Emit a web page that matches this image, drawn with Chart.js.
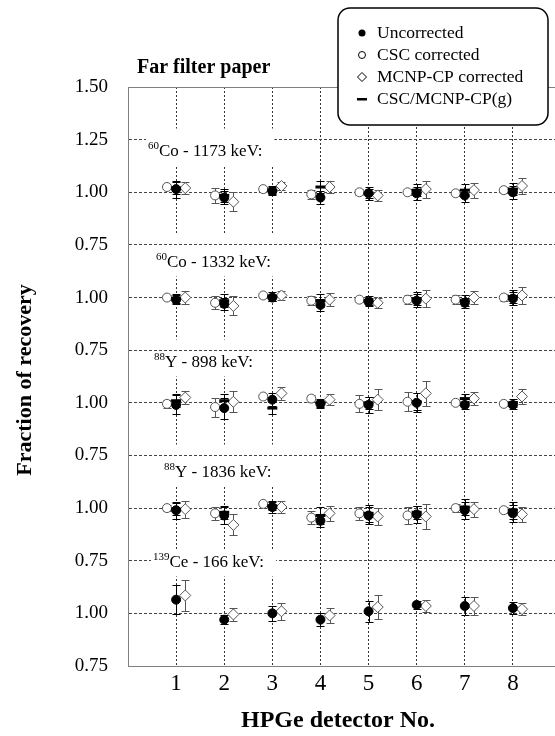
<!DOCTYPE html>
<html>
<head>
<meta charset="utf-8">
<script src="https://cdn.jsdelivr.net/npm/chart.js@4.4.0/dist/chart.umd.min.js"></script>
<style>
  html, body { margin: 0; padding: 0; background: #fff; }
  #wrap { width: 555px; height: 736px; overflow: hidden; }
</style>
</head>
<body>
<div id="wrap"><canvas id="chart" width="555" height="736"></canvas></div>
<script>
// x categories and the stacked y axis tick labels (bottom -> top)
const detectors = [1, 2, 3, 4, 5, 6, 7, 8];
const yTickLabels = ['0.75', '1.00', '0.75', '1.00', '0.75', '1.00', '0.75', '1.00', '0.75', '1.00', '1.25', '1.50'];

// panel captions, top -> bottom
const panelMass = ['60', '60', '88', '88', '139'];
const panelNames = ['Co - 1173 keV:', 'Co - 1332 keV:', 'Y - 898 keV:', 'Y - 1836 keV:', 'Ce - 166 keV:'];

// 60Co 1173 keV
const unc1173 = [1.015, 0.975, 1.005, 0.975, 0.995, 0.995, 0.985, 1.00];
const unc1173Err = [0.04, 0.03, 0.02, 0.03, 0.02, 0.03, 0.03, 0.03];
const csc1173 = [1.025, 0.985, 1.015, 0.99, 1.00, 1.00, 0.995, 1.01];
const csc1173Err = [0.01, 0.035, 0.01, 0.02, 0.015, 0.015, 0.015, 0.015];
const mcnp1173 = [1.02, 0.955, 1.03, 1.025, 0.985, 1.015, 1.01, 1.03];
const mcnp1173Err = [0.03, 0.045, 0.02, 0.03, 0.025, 0.04, 0.035, 0.04];
const g1173 = [1.02, 0.985, 1.01, 1.025, 0.995, 1.01, 1.01, 1.015];
const g1173Err = [0.03, 0.03, 0.02, 0.03, 0.03, 0.03, 0.03, 0.03];

// 60Co 1332 keV
const unc1332 = [0.99, 0.97, 1.00, 0.965, 0.98, 0.985, 0.975, 0.995];
const unc1332Err = [0.02, 0.03, 0.015, 0.03, 0.02, 0.03, 0.025, 0.03];
const csc1332 = [1.00, 0.975, 1.01, 0.985, 0.99, 0.99, 0.99, 1.00];
const csc1332Err = [0.01, 0.03, 0.01, 0.02, 0.01, 0.02, 0.02, 0.015];
const mcnp1332 = [1.00, 0.96, 1.01, 0.99, 0.975, 0.995, 1.00, 1.01];
const mcnp1332Err = [0.03, 0.045, 0.02, 0.03, 0.025, 0.04, 0.03, 0.04];
const g1332 = [0.995, 0.985, 1.005, 0.985, 0.985, 0.995, 0.985, 1.005];
const g1332Err = [0.02, 0.03, 0.02, 0.03, 0.02, 0.03, 0.025, 0.03];

// 88Y 898 keV
const unc898 = [0.99, 0.975, 1.015, 0.995, 0.99, 1.00, 0.99, 0.99];
const unc898Err = [0.045, 0.05, 0.03, 0.02, 0.04, 0.045, 0.02, 0.02];
const csc898 = [0.995, 0.98, 1.03, 1.02, 0.995, 1.005, 1.00, 0.995];
const csc898Err = [0.02, 0.045, 0.01, 0.015, 0.04, 0.045, 0.01, 0.01];
const mcnp898 = [1.025, 1.005, 1.045, 1.015, 1.015, 1.045, 1.02, 1.03];
const mcnp898Err = [0.03, 0.05, 0.03, 0.025, 0.05, 0.06, 0.03, 0.035];
const g898 = [1.01, 1.01, 0.975, 1.00, 1.00, 1.005, 1.02, 1.00];
const g898Err = [0.03, 0.03, 0.03, 0.02, 0.03, 0.04, 0.02, 0.02];

// 88Y 1836 keV
const unc1836 = [0.99, 0.965, 1.005, 0.94, 0.965, 0.97, 0.99, 0.975];
const unc1836Err = [0.04, 0.04, 0.03, 0.03, 0.04, 0.04, 0.04, 0.04];
const csc1836 = [1.00, 0.975, 1.02, 0.955, 0.975, 0.965, 1.00, 0.99];
const csc1836Err = [0.015, 0.03, 0.01, 0.03, 0.03, 0.04, 0.02, 0.015];
const mcnp1836 = [0.995, 0.92, 1.005, 0.975, 0.96, 0.96, 0.995, 0.97];
const mcnp1836Err = [0.04, 0.05, 0.03, 0.035, 0.04, 0.06, 0.035, 0.035];
const g1836 = [0.995, 0.98, 1.01, 0.965, 0.975, 0.98, 1.005, 0.99];
const g1836Err = [0.03, 0.03, 0.02, 0.04, 0.04, 0.03, 0.04, 0.04];

// 139Ce 166 keV (no CSC or g values)
const unc166 = [1.065, 0.97, 1.00, 0.97, 1.01, 1.04, 1.035, 1.025];
const unc166Err = [0.07, 0.02, 0.035, 0.03, 0.05, 0.02, 0.045, 0.03];
const mcnp166 = [1.085, 0.995, 1.01, 0.99, 1.03, 1.035, 1.035, 1.02];
const mcnp166Err = [0.075, 0.03, 0.04, 0.035, 0.055, 0.03, 0.045, 0.03];

const uncPanels = [[unc1173, unc1173Err], [unc1332, unc1332Err], [unc898, unc898Err], [unc1836, unc1836Err], [unc166, unc166Err]];
const cscPanels = [[csc1173, csc1173Err], [csc1332, csc1332Err], [csc898, csc898Err], [csc1836, csc1836Err], null];
const mcnpPanels = [[mcnp1173, mcnp1173Err], [mcnp1332, mcnp1332Err], [mcnp898, mcnp898Err], [mcnp1836, mcnp1836Err], [mcnp166, mcnp166Err]];
const gPanels = [[g1173, g1173Err], [g1332, g1332Err], [g898, g898Err], [g1836, g1836Err], null];

const SERIF = '"Liberation Serif", "Times New Roman", serif';

// panel p (0 = top) has its 0.75 line at axis unit 2*(4-p); 0.25 recovery = 1 unit
const toAxis = (p, v) => 2 * (4 - p) + (v - 0.75) / 0.25;

function buildPoints(panels, shift) {
  const pts = [];
  panels.forEach((pair, p) => {
    if (!pair) return;
    const [vals, errs] = pair;
    vals.forEach((v, i) => {
      pts.push({ x: detectors[i] + shift, y: toAxis(p, v), e: errs[i] / 0.25 });
    });
  });
  return pts;
}

const datasets = [
  {
    label: 'CSC/MCNP-CP(g)', data: buildPoints(gPanels, 0), order: 0,
    pointStyle: 'line', pointRadius: 5, borderWidth: 3, borderColor: '#000', backgroundColor: '#000', barColor: '#000'
  },
  {
    label: 'Uncorrected', data: buildPoints(uncPanels, 0), order: 1,
    pointStyle: 'circle', pointRadius: 4.5, borderWidth: 1, borderColor: '#000', backgroundColor: '#000', barColor: '#000'
  },
  {
    label: 'MCNP-CP corrected', data: buildPoints(mcnpPanels, 0.19), order: 2,
    pointStyle: 'rectRot', pointRadius: 5.5, borderWidth: 1, borderColor: '#555', backgroundColor: '#fff', barColor: '#555'
  },
  {
    label: 'CSC corrected', data: buildPoints(cscPanels, -0.19), order: 3,
    pointStyle: 'circle', pointRadius: 4.5, borderWidth: 1, borderColor: '#555', backgroundColor: '#fff', barColor: '#555'
  }
];

// caption placement: px from plot left, baseline px below the panel's 1.25 line
const captionDx = [20, 28, 26, 36, 25];
const captionDy = [16, 22, 16, 21, 6];
const captionOnLine = [true, false, false, false, true];

const panelPlugin = {
  id: 'panels',
  beforeDatasetsDraw(chart) {
    const { ctx, chartArea: a, scales: { y } } = chart;
    ctx.save();
    ctx.strokeStyle = '#808080';
    ctx.lineWidth = 1;
    ctx.beginPath();
    ctx.moveTo(a.left, a.top + 0.5);
    ctx.lineTo(a.right, a.top + 0.5);
    ctx.stroke();

    panelNames.forEach((name, p) => {
      const b = Math.round(y.getPixelForValue(2 * (4 - p) + 2) - 0.5) + 0.5;
      ctx.font = '11px ' + SERIF;
      const sw = ctx.measureText(panelMass[p]).width;
      ctx.font = '17px ' + SERIF;
      const mw = ctx.measureText(name).width;
      const x0 = a.left + captionDx[p];
      const base = b + captionDy[p];
      const x1 = x0 + sw + mw;

      // white box hides grid lines behind the caption
      const top = b - 11;
      ctx.fillStyle = '#fff';
      ctx.fillRect(a.left + 1, top, x1 + 12 - a.left - 1, base + 10 - top);

      ctx.strokeStyle = '#444';
      ctx.setLineDash([3, 2]);
      ctx.beginPath();
      ctx.moveTo(a.left + 1, b);
      ctx.lineTo(captionOnLine[p] ? x0 - 2 : x1 + 12, b);
      ctx.stroke();
      ctx.setLineDash([]);

      ctx.fillStyle = '#000';
      ctx.textAlign = 'left';
      ctx.textBaseline = 'alphabetic';
      ctx.font = '11px ' + SERIF;
      ctx.fillText(panelMass[p], x0, base - 7);
      ctx.font = '17px ' + SERIF;
      ctx.fillText(name, x0 + sw, base);
    });
    ctx.restore();
  }
};

const errorBarPlugin = {
  id: 'errorBars',
  beforeDatasetsDraw(chart) {
    const { ctx, scales: { y } } = chart;
    chart.data.datasets.forEach((ds, i) => {
      const meta = chart.getDatasetMeta(i);
      ctx.save();
      ctx.strokeStyle = ds.barColor;
      ctx.lineWidth = 1;
      meta.data.forEach((pt, j) => {
        const d = ds.data[j];
        const hi = Math.round(y.getPixelForValue(d.y + d.e)) + 0.5;
        const lo = Math.round(y.getPixelForValue(d.y - d.e)) + 0.5;
        const x = Math.round(pt.x) + 0.5;
        ctx.beginPath();
        ctx.moveTo(x, hi); ctx.lineTo(x, lo);
        ctx.moveTo(x - 4, hi); ctx.lineTo(x + 4, hi);
        ctx.moveTo(x - 4, lo); ctx.lineTo(x + 4, lo);
        ctx.stroke();
      });
      ctx.restore();
    });
  }
};

const textPlugin = {
  id: 'texts',
  afterDraw(chart) {
    const { ctx } = chart;
    ctx.save();
    ctx.fillStyle = '#000';
    ctx.textBaseline = 'alphabetic';

    ctx.font = 'bold 20px ' + SERIF;
    ctx.textAlign = 'left';
    ctx.fillText('Far filter paper', 137, 73);

    ctx.font = 'bold 24px ' + SERIF;
    ctx.textAlign = 'center';
    ctx.fillText('HPGe detector No.', 338, 727);

    ctx.save();
    ctx.translate(31, 380);
    ctx.rotate(-Math.PI / 2);
    ctx.font = 'bold 22px ' + SERIF;
    ctx.fillText('Fraction of recovery', 0, 0);
    ctx.restore();

    // legend box
    const lx = 338, ly = 8, lw = 210, lh = 117, r = 12;
    ctx.fillStyle = '#fff';
    ctx.strokeStyle = '#000';
    ctx.lineWidth = 1.5;
    ctx.beginPath();
    ctx.roundRect(lx, ly, lw, lh, r);
    ctx.fill();
    ctx.stroke();

    const rows = [33, 55, 77, 99];
    const sx = 362;
    ctx.font = '17.5px ' + SERIF;
    ctx.textAlign = 'left';
    ctx.lineWidth = 1;
    ['Uncorrected', 'CSC corrected', 'MCNP-CP corrected', 'CSC/MCNP-CP(g)'].forEach((t, k) => {
      const ry = rows[k];
      if (k === 0) {
        ctx.fillStyle = '#000';
        ctx.beginPath(); ctx.arc(sx, ry, 3.5, 0, Math.PI * 2); ctx.fill();
      } else if (k === 1) {
        ctx.strokeStyle = '#000';
        ctx.beginPath(); ctx.arc(sx, ry, 3.5, 0, Math.PI * 2); ctx.stroke();
      } else if (k === 2) {
        ctx.strokeStyle = '#000';
        ctx.beginPath();
        ctx.moveTo(sx, ry - 4.5); ctx.lineTo(sx + 4.5, ry); ctx.lineTo(sx, ry + 4.5); ctx.lineTo(sx - 4.5, ry);
        ctx.closePath(); ctx.stroke();
      } else {
        ctx.fillStyle = '#000';
        ctx.fillRect(sx - 5, ry - 1, 10, 2.5);
      }
      ctx.fillStyle = '#000';
      ctx.fillText(t, 377, ry + 5);
    });
    ctx.restore();
  }
};

new Chart(document.getElementById('chart'), {
  type: 'scatter',
  data: { datasets },
  options: {
    responsive: false,
    animation: false,
    layout: { autoPadding: false, padding: { top: 87, right: 0, bottom: 0, left: 0 } },
    plugins: { legend: { display: false }, tooltip: { enabled: false } },
    scales: {
      x: {
        type: 'linear', min: 0, max: 8.875,
        afterBuildTicks: s => { s.ticks = detectors.map(d => ({ value: d })); },
        afterFit: s => { s.height = 70; },
        grid: { color: '#333', lineWidth: 1, drawTicks: false },
        border: { display: true, color: '#808080', width: 1, dash: [2, 2] },
        ticks: { color: '#000', font: { family: SERIF, size: 23 }, padding: 4 }
      },
      y: {
        type: 'linear', min: 0, max: 11,
        afterBuildTicks: s => { s.ticks = yTickLabels.map((l, i) => ({ value: i })); },
        afterFit: s => { s.width = 128; },
        grid: {
          color: c => (c.tick && c.tick.value > 0 && c.tick.value < 11) ? '#444' : 'rgba(0,0,0,0)',
          lineWidth: 1, drawTicks: false
        },
        border: { display: true, color: '#808080', width: 1, dash: [3, 2] },
        ticks: { color: '#000', font: { family: SERIF, size: 19 }, padding: 20, callback: (v, i) => yTickLabels[i] }
      }
    }
  },
  plugins: [panelPlugin, errorBarPlugin, textPlugin]
});
</script>
</body>
</html>
